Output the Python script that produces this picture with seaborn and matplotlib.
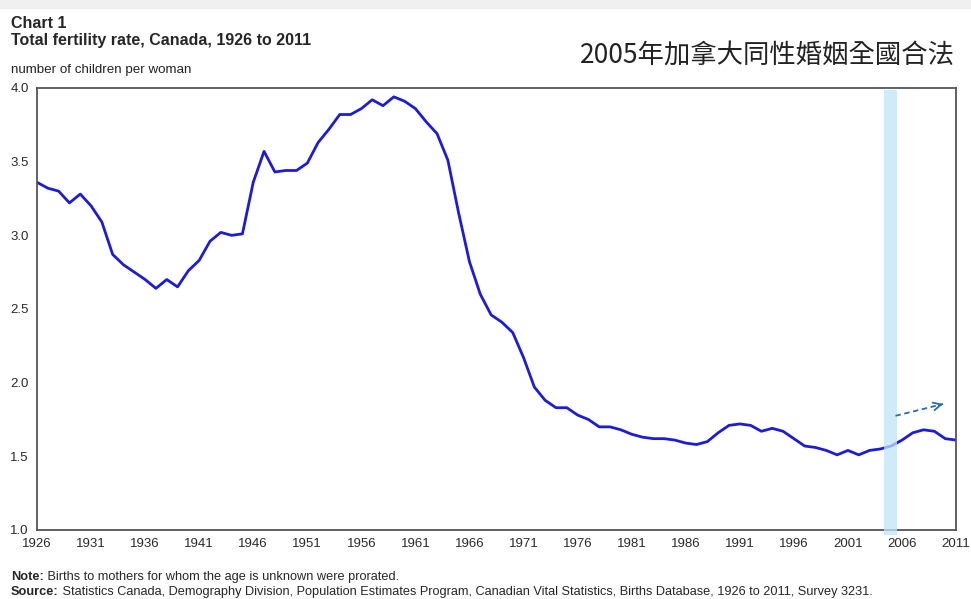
import numpy as np
import pandas as pd
import seaborn as sns
import matplotlib.pyplot as plt
from matplotlib.patches import Rectangle

# total fertility rate, Canada (children per woman)
years = list(range(1926, 2012))
tfr = [3.36, 3.32, 3.30, 3.22, 3.28, 3.20, 3.09, 2.87, 2.80, 2.75,
       2.70, 2.64, 2.70, 2.65, 2.76, 2.83, 2.96, 3.02, 3.00, 3.01,
       3.36, 3.57, 3.43, 3.44, 3.44, 3.49, 3.63, 3.72, 3.82, 3.82,
       3.86, 3.92, 3.88, 3.94, 3.91, 3.86, 3.77, 3.69, 3.51, 3.15,
       2.82, 2.60, 2.46, 2.41, 2.34, 2.17, 1.97, 1.88, 1.83, 1.83,
       1.78, 1.75, 1.70, 1.70, 1.68, 1.65, 1.63, 1.62, 1.62, 1.61,
       1.59, 1.58, 1.60, 1.66, 1.71, 1.72, 1.71, 1.67, 1.69, 1.67,
       1.62, 1.57, 1.56, 1.54, 1.51, 1.54, 1.51, 1.54, 1.55, 1.57,
       1.61, 1.66, 1.68, 1.67, 1.62, 1.61]
xticks = list(range(1926, 2012, 5))
yticks = [1.0, 1.5, 2.0, 2.5, 3.0, 3.5, 4.0]

# 2005 highlight band and trend arrow
band = (2004.3, 2005.5)
arrow_from = (2005.4, 1.775)
arrow_to = (2009.8, 1.855)

df = pd.DataFrame({"Year": years, "TFR": tfr})

sns.set_style("white")
plt.rcParams['font.family'] = ['Liberation Sans', 'DejaVu Sans']

fig = plt.figure(figsize=(9.71, 5.99), dpi=100)
# faint grey strip along the top, like the slide it came from
fig.patches.append(Rectangle((0, 0.986), 1, 0.014, transform=fig.transFigure,
                             color='#f0f0f0', zorder=0))
ax = fig.add_axes([0.0381, 0.1152, 0.9465, 0.7379])

sns.lineplot(data=df, x="Year", y="TFR", ax=ax, color='#1c1cd8', linewidth=2.0, zorder=2)

ax.axvspan(band[0], band[1], ymin=-0.012, ymax=0.995, color='#bfe4f8', alpha=0.75,
           lw=0, zorder=3, clip_on=False)

##=========== dashed arrow ===========##
ax.plot([arrow_from[0], arrow_to[0]], [arrow_from[1], arrow_to[1]], ls=(0, (3, 2)),
        color='#2a6aa6', lw=1.3, zorder=4)
ax.annotate('', xy=arrow_to, xytext=(arrow_to[0] - 0.4, arrow_to[1] - 0.0074),
            arrowprops=dict(arrowstyle='->', color='#2a6aa6', lw=1.3,
                            mutation_scale=14, shrinkA=0, shrinkB=0))

ax.set_xlim(1926, 2011)
ax.set_ylim(1.0, 4.0)
ax.set_xticks(xticks)
ax.set_yticks(yticks)
ax.set_yticklabels([f"{v:.1f}" for v in yticks])
ax.set_xlabel("")
ax.set_ylabel("")
ax.tick_params(direction='in', length=4, width=1, colors='#444444', labelsize=9.5,
               labelcolor='#2a2a2a')
ax.tick_params(axis='x', pad=6)
ax.tick_params(axis='y', pad=6)
for s in ax.spines.values():
    s.set_color('#555555')
    s.set_linewidth(1.3)

##=========== titles ===========##
fig.text(0.0113, 0.960, "Chart 1", fontsize=11.5, fontweight='bold', va='center')
fig.text(0.0113, 0.932, "Total fertility rate, Canada, 1926 to 2011", fontsize=11.5,
         fontweight='bold', va='center')
fig.text(0.0113, 0.883, "number of children per woman", fontsize=9.6, va='center', color='#222222')
fig.text(0.984, 0.908, "2005年加拿大同性婚姻全國合法", fontsize=19, ha='right', va='center',
         color='#222222', family=['Noto Sans CJK TC', 'DejaVu Sans'])

##=========== footnotes ===========##
t1 = fig.text(0.0113, 0.037, "Note:", fontsize=9.2, fontweight='bold', va='center')
ax.annotate(" Births to mothers for whom the age is unknown were prorated.", xy=(1, 0.5),
            xycoords=t1, va='center', fontsize=9.2)
t2 = fig.text(0.0113, 0.012, "Source:", fontsize=9.2, fontweight='bold', va='center')
ax.annotate(" Statistics Canada, Demography Division, Population Estimates Program, "
            "Canadian Vital Statistics, Births Database, 1926 to 2011, Survey 3231.",
            xy=(1, 0.5), xycoords=t2, va='center', fontsize=9.2)

fig.savefig("out.png", dpi=100)
